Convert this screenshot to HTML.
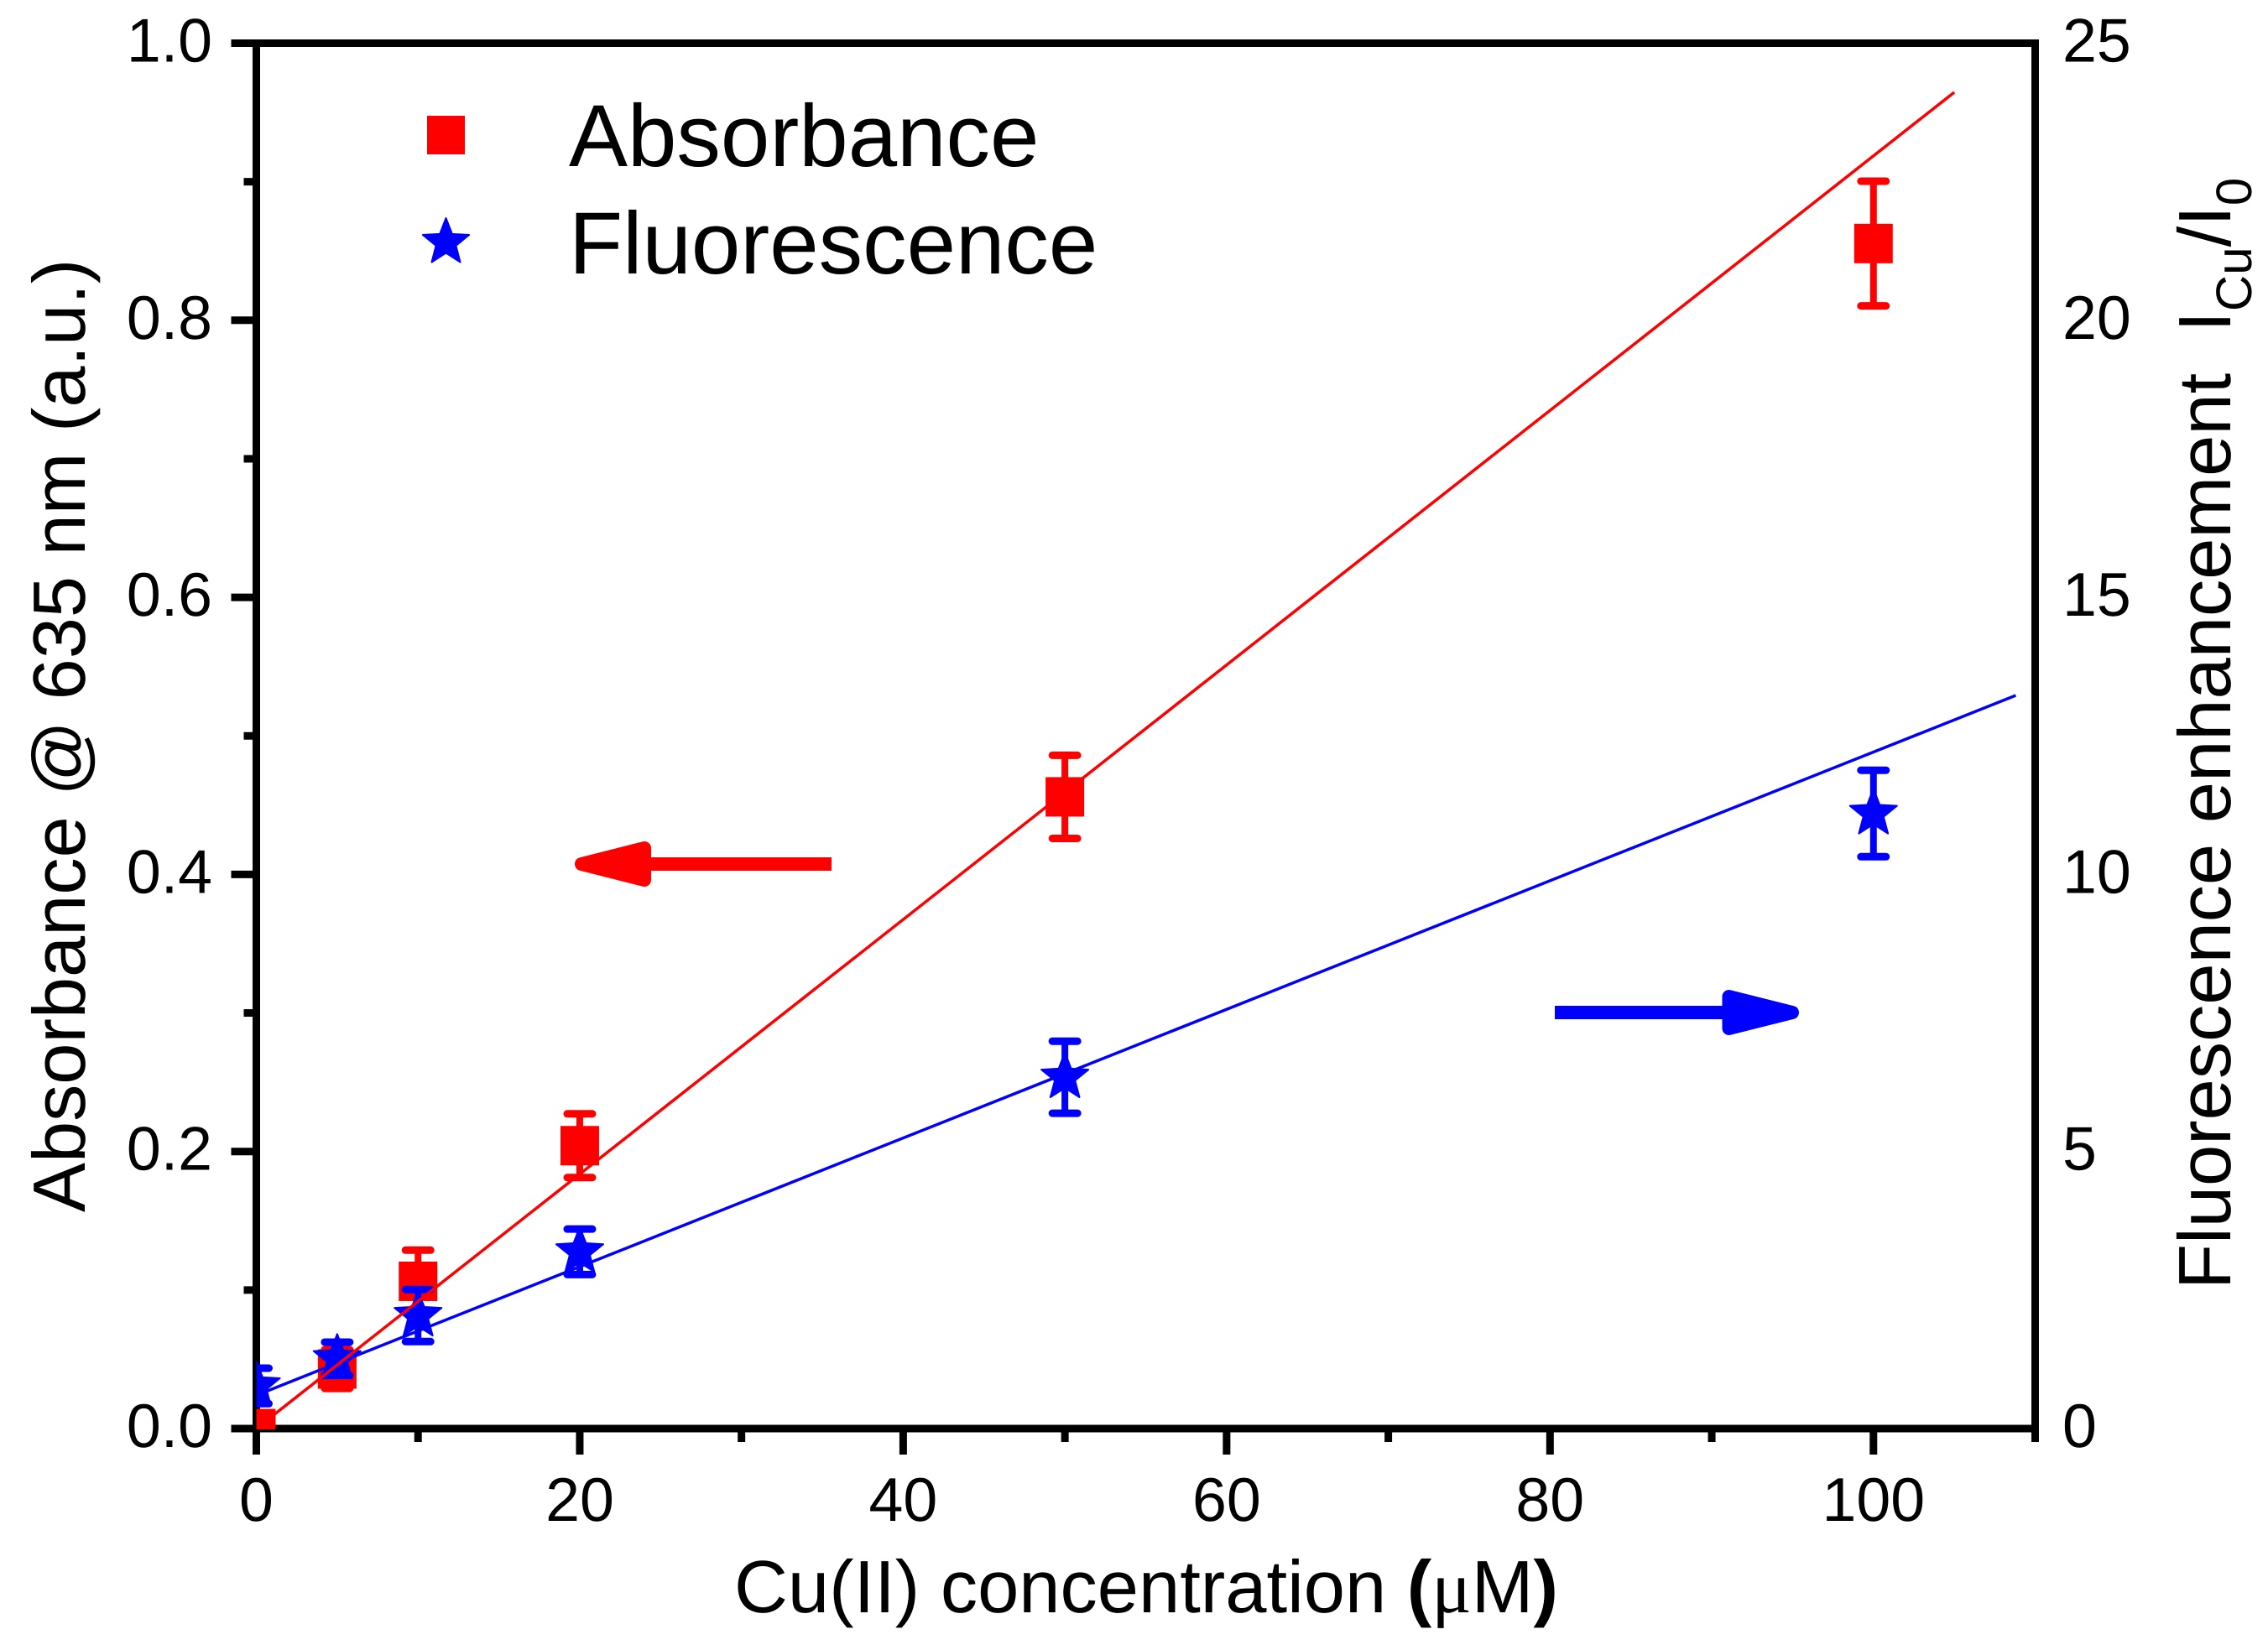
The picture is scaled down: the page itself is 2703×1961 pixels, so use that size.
<!DOCTYPE html>
<html lang="en">
<head>
<meta charset="utf-8">
<title>Absorbance and fluorescence vs Cu(II) concentration</title>
<style>
html,body{margin:0;padding:0;background:#fff;}
svg{display:block;font-family:"Liberation Sans",Arial,sans-serif;text-rendering:geometricPrecision;}
</style>
</head>
<body>
<svg id="chart" xmlns="http://www.w3.org/2000/svg" width="2703" height="1961" viewBox="0 0 2703 1961">
  <defs><clipPath id="plot-clip"><rect x="305.5" y="47" width="2120" height="1657"></rect></clipPath></defs>
  <rect width="2703" height="1961" fill="#fff"></rect>
  <g id="axes"></g>
  <g id="marks" clip-path="url(#plot-clip)"></g>

  <text x="875" y="1922" font-size="88.5" fill="#000">Cu(II) concentration <tspan font-weight="bold">(</tspan><tspan font-family="'Liberation Serif',serif">μ</tspan>M<tspan font-weight="bold">)</tspan></text>
  <text transform="translate(101 1445) rotate(-90)" font-size="88.4" fill="#000">Absorbance @ 635 nm (a.u.)</text>
  <text transform="translate(2658 1537) rotate(-90)" font-size="88.5" fill="#000" xml:space="preserve">Fluorescence enhancement&#160;&#160;I<tspan font-size="60" dy="25">Cu</tspan><tspan dy="-25">/I</tspan><tspan font-size="60" dy="25">0</tspan></text>

  <g>
    <rect x="509" y="138" width="45" height="46" fill="#f00"></rect>
    <text x="678" y="198" font-size="105" fill="#000">Absorbance</text>
    <polygon id="legend-star" fill="#00f" stroke="#00f" stroke-width="2" stroke-linejoin="round"></polygon>
    <text x="678" y="326" font-size="105" fill="#000">Fluorescence</text>
  </g>

  <g>
    <rect x="770" y="1022" width="221" height="16" fill="#f00"></rect>
    <polygon points="693,1030 768,1011 768,1049" fill="#f00" stroke="#f00" stroke-width="16" stroke-linejoin="round"></polygon>
  </g>
  <g>
    <rect x="1853" y="1199" width="205" height="16" fill="#00f"></rect>
    <polygon points="2136,1207 2060.500,1188 2060.500,1226" fill="#00f" stroke="#00f" stroke-width="16" stroke-linejoin="round"></polygon>
  </g>
</svg>
<script>
// ---- chart data ----
const concentrations = [0, 5, 10, 20, 50, 100];
const absorbance = [0, 0.043, 0.1063, 0.2042, 0.456, 0.8554];
const absorbanceErr = [0, 0.014, 0.0225, 0.023, 0.03, 0.045];
const fluorescence = [0.77, 1.26, 2.04, 3.19, 6.34, 11.1];
const fluorescenceErr = [0.32, 0.3, 0.47, 0.41, 0.65, 0.78];
const absorbanceFitX = [0, 105];
const absorbanceFitY = [0, 0.9646];
const fluorescenceFitX = [0, 108.8];
const fluorescenceFitY = [0.6, 13.23];
const xTickLabels = ['0', '20', '40', '60', '80', '100'];
const xMinorTicks = [10, 30, 50, 70, 90, 110];
const leftTickLabels = ['0.0', '0.2', '0.4', '0.6', '0.8', '1.0'];
const leftMinorTicks = [0.1, 0.3, 0.5, 0.7, 0.9];
const rightTickLabels = ['0', '5', '10', '15', '20', '25'];

// ---- axis functions ----
const xMax = 110, leftMax = 1, rightMax = 25;
const plotL = 305.5, plotR = 2425.5, plotT = 51.5, plotB = 1703;
const sx = v => plotL + (v / xMax) * (plotR - plotL);
const syL = v => plotB - (v / leftMax) * (plotB - plotT);
const syR = v => plotB - (v / rightMax) * (plotB - plotT);

const NS = 'http://www.w3.org/2000/svg';
const axes = document.getElementById('axes');
const marks = document.getElementById('marks');
function make(tag, parent, props) {
  const el = document.createElementNS(NS, tag);
  for (const k in props) el.setAttribute(k, props[k]);
  parent.appendChild(el);
  return el;
}
function starPoints(cx, cy, R) {
  const r = R * 0.43, pts = [];
  for (let i = 0; i < 10; i++) {
    const a = -Math.PI / 2 + i * Math.PI / 5, q = i % 2 ? r : R;
    pts.push((cx + q * Math.cos(a)).toFixed(1) + ',' + (cy + q * Math.sin(a)).toFixed(1));
  }
  return pts.join(' ');
}

// frame
const frame = make('rect', axes, {x: plotL, y: plotT, width: plotR - plotL, height: plotB - plotT, fill: 'none', stroke: '#000', 'stroke-width': 9});



// x ticks
xTickLabels.forEach(function (label) {
  const v = Number(label);
  const t = make('line', axes, {x1: sx(v), x2: sx(v), y1: plotB, y2: plotB + 31, stroke: '#000', 'stroke-width': 9});
  
  
  const l = make('text', axes, {x: sx(v), y: 1813, 'font-size': 73.5, 'text-anchor': 'middle', fill: '#000'});
  l.textContent = label;
  
  
});
xMinorTicks.forEach(function (v) {
  const t = make('line', axes, {x1: sx(v), x2: sx(v), y1: plotB, y2: plotB + 16, stroke: '#000', 'stroke-width': 9});
  
  
});

// left y ticks
leftTickLabels.forEach(function (label) {
  const v = Number(label);
  const t = make('line', axes, {x1: plotL - 30, x2: plotL, y1: syL(v), y2: syL(v), stroke: '#000', 'stroke-width': 9});
  
  
  const l = make('text', axes, {x: 253, y: syL(v) + 22, 'font-size': 73.5, 'text-anchor': 'end', fill: '#000'});
  l.textContent = label;
  
  
});
leftMinorTicks.forEach(function (v) {
  const t = make('line', axes, {x1: plotL - 15, x2: plotL, y1: syL(v), y2: syL(v), stroke: '#000', 'stroke-width': 9});
  
  
});

// right y labels
rightTickLabels.forEach(function (label) {
  const v = Number(label);
  const l = make('text', axes, {x: 2458, y: syR(v) + 22, 'font-size': 73.5, fill: '#000'});
  l.textContent = label;
  
  
});

// error bars
function errorBar(x, yLo, yHi, color, group) {
  const stem = make('line', group, {x1: x, x2: x, y1: yLo, y2: yHi, stroke: color, 'stroke-width': 8});
  
  
  [yLo, yHi].forEach(function (y) {
    const cap = make('line', group, {x1: x - 15, x2: x + 15, y1: y, y2: y, stroke: color, 'stroke-width': 9, 'stroke-linecap': 'round'});
    
    
  });
}

// absorbance points
concentrations.forEach(function (c, i) {
  const g = make('g', marks, {});
  
  
  if (absorbanceErr[i] > 0) {
    errorBar(sx(c), syL(absorbance[i] - absorbanceErr[i]), syL(absorbance[i] + absorbanceErr[i]), '#f00', g);
  }
  const m = make('rect', g, {x: sx(c) - 23, y: syL(absorbance[i]) - 23.5, width: 46, height: 47, fill: '#f00'});
  
  
});

// fluorescence points
concentrations.forEach(function (c, i) {
  const g = make('g', marks, {});
  
  
  errorBar(sx(c), syR(fluorescence[i] - fluorescenceErr[i]), syR(fluorescence[i] + fluorescenceErr[i]), '#00f', g);
  const m = make('polygon', g, {points: starPoints(sx(c), syR(fluorescence[i]), 29.5), fill: '#00f', stroke: '#00f', 'stroke-width': 2, 'stroke-linejoin': 'round'});
  
  
});

// fit lines
const fitBlue = make('line', marks, {x1: sx(fluorescenceFitX[0]), y1: syR(fluorescenceFitY[0]), x2: sx(fluorescenceFitX[1]), y2: syR(fluorescenceFitY[1]), stroke: '#00f', 'stroke-width': 3.5});


const fitRed = make('line', marks, {x1: sx(absorbanceFitX[0]), y1: syL(absorbanceFitY[0]), x2: sx(absorbanceFitX[1]), y2: syL(absorbanceFitY[1]), stroke: '#f00', 'stroke-width': 3.5});



document.getElementById('legend-star').setAttribute('points', starPoints(531.5, 289, 29));
</script>
</body>
</html>
